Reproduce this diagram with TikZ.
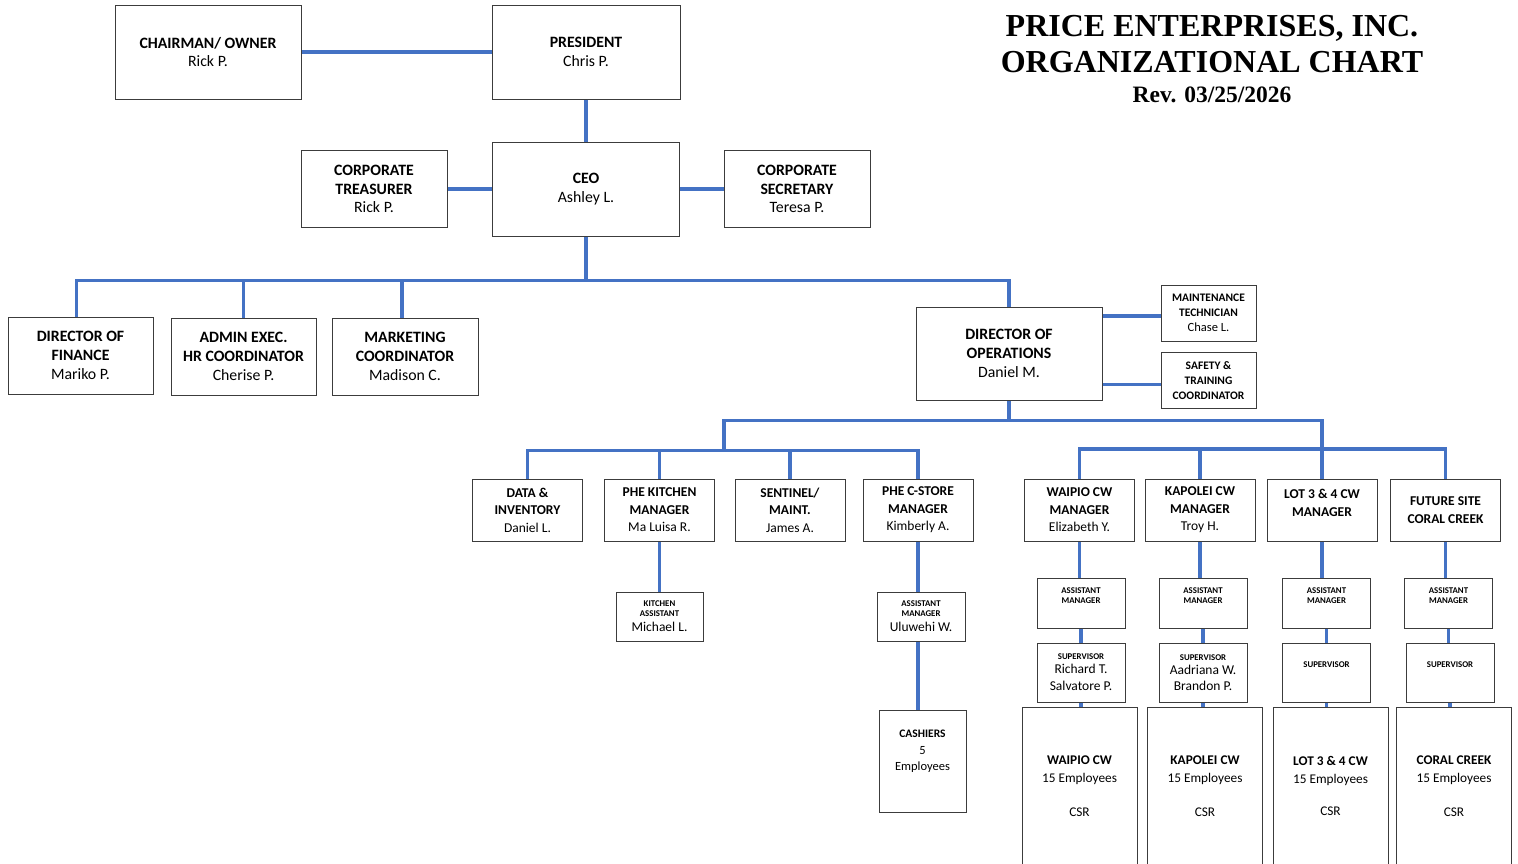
\documentclass[tikz,border=0pt]{standalone}
\usepackage{fontspec}
\setmainfont{Carlito}
\newfontfamily\titlefont{Liberation Serif}
\usetikzlibrary{positioning}

\definecolor{linkblue}{RGB}{68,114,196}
\definecolor{boxline}{RGB}{60,60,60}
\newcommand{\role}[1]{{\fontsize{8.8}{10}\selectfont\bfseries #1}}

\begin{document}
\begin{tikzpicture}[
		x=1pt, y=-1pt,
		box/.style={
			rectangle,
			draw=boxline,
			line width=1pt,
			fill=white,
			align=center,
			inner sep=2pt
		},
		topbox/.style={
			box,
			font=\fontsize{15.8}{18.7}\selectfont
		},
		unitbox/.style={
			box,
			minimum width=110pt,
			minimum height=62pt,
			font=\fontsize{13.5}{17.5}\selectfont
		},
		sidebox/.style={
			box,
			minimum width=95pt,
			minimum height=56pt,
			font=\fontsize{11.5}{15}\selectfont
		},
		smallbox/.style={
			box,
			minimum width=88pt,
			font=\fontsize{13.5}{17}\selectfont
		},
		sitebox/.style={
			box,
			minimum width=115pt,
			minimum height=158pt,
			font=\fontsize{13.3}{18}\selectfont
		},
		link/.style={
			draw=linkblue,
			line width=3.3pt
		}
		]
		
		\path[use as bounding box, fill=white] (0,0) rectangle (1518,863);
		\clip (0,0) rectangle (1518,863);
		
		\node[font=\titlefont\bfseries\fontsize{32}{36}\selectfont, align=center] (title) at (1212,59)
		{PRICE ENTERPRISES, INC.\\
			ORGANIZATIONAL CHART\\[-6pt]
			{\fontsize{23.5}{26}\selectfont Rev. 03/25/2026}};
		
		% owners and officers
		\node[topbox, minimum width=186pt, minimum height=94pt] (chair) at (208,52)
		{\textbf{CHAIRMAN/ OWNER}\\Rick P.};
		\node[topbox, minimum width=188pt, minimum height=94pt] (pres) at (586,52)
		{\textbf{PRESIDENT}\\Chris P.};
		\node[topbox, minimum width=187pt, minimum height=94pt] (ceo) at (586,189)
		{\textbf{CEO}\\Ashley L.};
		\node[topbox, minimum width=146pt, minimum height=77pt] (treas) at (374,189)
		{\textbf{CORPORATE}\\\textbf{TREASURER}\\Rick P.};
		\node[topbox, minimum width=146pt, minimum height=77pt] (secr) at (797,189)
		{\textbf{CORPORATE}\\\textbf{SECRETARY}\\Teresa P.};
		
		% directors and coordinators
		\node[topbox, minimum width=145pt, minimum height=77pt] (fin) at (80.5,355.5)
		{\textbf{DIRECTOR OF}\\\textbf{FINANCE}\\Mariko P.};
		\node[topbox, minimum width=145pt, minimum height=77pt] (admin) at (243.5,356.5)
		{\textbf{ADMIN EXEC.}\\\textbf{HR COORDINATOR}\\Cherise P.};
		\node[topbox, minimum width=146pt, minimum height=77pt] (mkt) at (405,356.5)
		{\textbf{MARKETING}\\\textbf{COORDINATOR}\\Madison C.};
		\node[topbox, minimum width=186pt, minimum height=93pt] (ops) at (1009,353.5)
		{\textbf{DIRECTOR OF}\\\textbf{OPERATIONS}\\Daniel M.};
		\node[sidebox] (maint) at (1208.5,313)
		{\textbf{MAINTENANCE}\\\textbf{TECHNICIAN}\\{\fontsize{12.5}{16}\selectfont Chase L.}};
		\node[sidebox] (safety) at (1208.5,380.5)
		{\textbf{SAFETY \&}\\\textbf{TRAINING}\\\textbf{COORDINATOR}};
		
		% managers
		\node[unitbox] (data) at (527.5,510)
		{\textbf{DATA \&}\\\textbf{INVENTORY}\\Daniel L.};
		\node[unitbox] (kitchen) at (659.5,510)
		{\textbf{PHE KITCHEN}\\\textbf{MANAGER}\\Ma Luisa R.};
		\node[unitbox] (sentinel) at (790,510)
		{\textbf{SENTINEL/}\\\textbf{MAINT.}\\James A.};
		\node[unitbox] (cstore) at (918,510)
		{\textbf{PHE C-STORE}\\\textbf{MANAGER}\\Kimberly A.};
		\node[unitbox] (waipio) at (1079.5,510)
		{\textbf{WAIPIO CW}\\\textbf{MANAGER}\\Elizabeth Y.};
		\node[unitbox] (kapolei) at (1200,510)
		{\textbf{KAPOLEI CW}\\\textbf{MANAGER}\\Troy H.};
		\node[unitbox] (lot) at (1322,510)
		{\textbf{LOT 3 \& 4 CW}\\\textbf{MANAGER}\\[-8pt]\strut};
		\node[unitbox] (future) at (1445.5,510)
		{\textbf{FUTURE SITE}\\\textbf{CORAL CREEK}};
		
		% kitchen and c-store staff
		\node[smallbox, minimum width=87pt, minimum height=49pt] (kitchasst) at (659.5,616.5)
		{\role{KITCHEN}\\[-7pt]\role{ASSISTANT}\\[-2pt]Michael L.};
		\node[smallbox, minimum height=49pt] (storeasst) at (921,616.5)
		{\role{ASSISTANT}\\[-7pt]\role{MANAGER}\\[-2pt]Uluwehi W.};
		\node[smallbox, minimum width=87pt, minimum height=102pt,
		font=\fontsize{12.5}{16.5}\selectfont] (cashiers) at (922.5,761)
		{{\fontsize{11.5}{14}\selectfont\bfseries CASHIERS}\\5\\Employees\\\strut};
		
		% car wash assistants
		\node[smallbox, minimum height=50pt] (wasst) at (1081,603)
		{\role{ASSISTANT}\\[-7pt]\role{MANAGER}\\[-8pt]\strut};
		\node[smallbox, minimum height=50pt] (kasst) at (1203,603)
		{\role{ASSISTANT}\\[-7pt]\role{MANAGER}\\[-8pt]\strut};
		\node[smallbox, minimum height=50pt] (lasst) at (1326.5,603)
		{\role{ASSISTANT}\\[-7pt]\role{MANAGER}\\[-8pt]\strut};
		\node[smallbox, minimum height=50pt] (fasst) at (1448.5,603)
		{\role{ASSISTANT}\\[-7pt]\role{MANAGER}\\[-8pt]\strut};
		
		% car wash supervisors
		\node[smallbox, minimum height=59pt] (wsup) at (1081,672.5)
		{\role{SUPERVISOR}\\[-3pt]Richard T.\\Salvatore P.};
		\node[smallbox, minimum height=59pt] (ksup) at (1203,672.5)
		{\role{SUPERVISOR}\\[-3pt]Aadriana W.\\[-1pt]Brandon P.};
		\node[smallbox, minimum height=59pt] (lsup) at (1326.5,672.5)
		{\role{SUPERVISOR}\\[-6pt]\strut};
		\node[smallbox, minimum height=59pt] (fsup) at (1450,672.5)
		{\role{SUPERVISOR}\\[-6pt]\strut};
		
		% car wash sites
		\node[sitebox] (wsite) at (1079.5,786)
		{\textbf{WAIPIO CW}\\15 Employees\\[16pt]CSR};
		\node[sitebox] (ksite) at (1205,786)
		{\textbf{KAPOLEI CW}\\15 Employees\\[16pt]CSR};
		\node[sitebox] (lsite) at (1330.5,786)
		{\textbf{LOT 3 \& 4 CW}\\15 Employees\\[14pt]CSR};
		\node[sitebox] (fsite) at (1454,786)
		{\textbf{CORAL CREEK}\\15 Employees\\[16pt]CSR};
		
		% links
		\draw[link] (chair) -- (pres);
		\draw[link] (pres) -- (ceo);
		\draw[link] (treas) -- (ceo);
		\draw[link] (ceo) -- (secr);
		
		\draw[link] (ceo.south) -- ++(0,44) coordinate (hq);
		\draw[link] (hq) -| ([xshift=-4pt]fin.north);
		\draw[link] (hq) -| (admin.north);
		\draw[link] (hq) -| ([xshift=-3pt]mkt.north);
		\draw[link] (hq) -| (ops.north);
		
		\draw[link] ([yshift=-3pt]maint.west -| ops.east) -- ([yshift=-3pt]maint.west);
		\draw[link] ([yshift=-4pt]safety.west -| ops.east) -- ([yshift=-4pt]safety.west);
		
		\draw[link] (ops.south) -- ++(0,20) coordinate (opsjoin);
		\draw[link] (opsjoin) -| (lot.north);
		\draw[link] (opsjoin) -| ++(-285,30) coordinate (staffjoin);
		\draw[link] (staffjoin) -| (data.north);
		\draw[link] (staffjoin) -| (kitchen.north);
		\draw[link] (staffjoin) -| (sentinel.north);
		\draw[link] (staffjoin) -| (cstore.north);
		
		\coordinate (cwjoin) at (1322,449);
		\draw[link] (cwjoin) -| (waipio.north);
		\draw[link] (cwjoin) -| (kapolei.north);
		\draw[link] (cwjoin) -| (future.north);
		
		\draw[link] (kitchen) -- (kitchasst);
		\draw[link] (cstore.south) -- (cstore.south |- storeasst.north);
		\draw[link] (cstore.south |- storeasst.south) -- (cstore.south |- cashiers.north);
		
		\draw[link] (waipio.south) -- (waipio.south |- wasst.north);
		\draw[link] (kapolei.south) -- (kapolei.south |- kasst.north);
		\draw[link] (lot.south) -- (lot.south |- lasst.north);
		\draw[link] (future.south) -- (future.south |- fasst.north);
		
		\draw[link] (wasst.south) -- (wasst.south |- wsup.north);
		\draw[link] (kasst.south) -- (kasst.south |- ksup.north);
		\draw[link] (lasst.south) -- (lasst.south |- lsup.north);
		\draw[link] (fasst.south) -- (fasst.south |- fsup.north);
		
		\draw[link] (wsup.south) -- (wsup.south |- wsite.north);
		\draw[link] (ksup.south) -- (ksup.south |- ksite.north);
		\draw[link] (lsup.south) -- (lsup.south |- lsite.north);
		\draw[link] (fsup.south) -- (fsup.south |- fsite.north);
		
	\end{tikzpicture}
\end{document}
